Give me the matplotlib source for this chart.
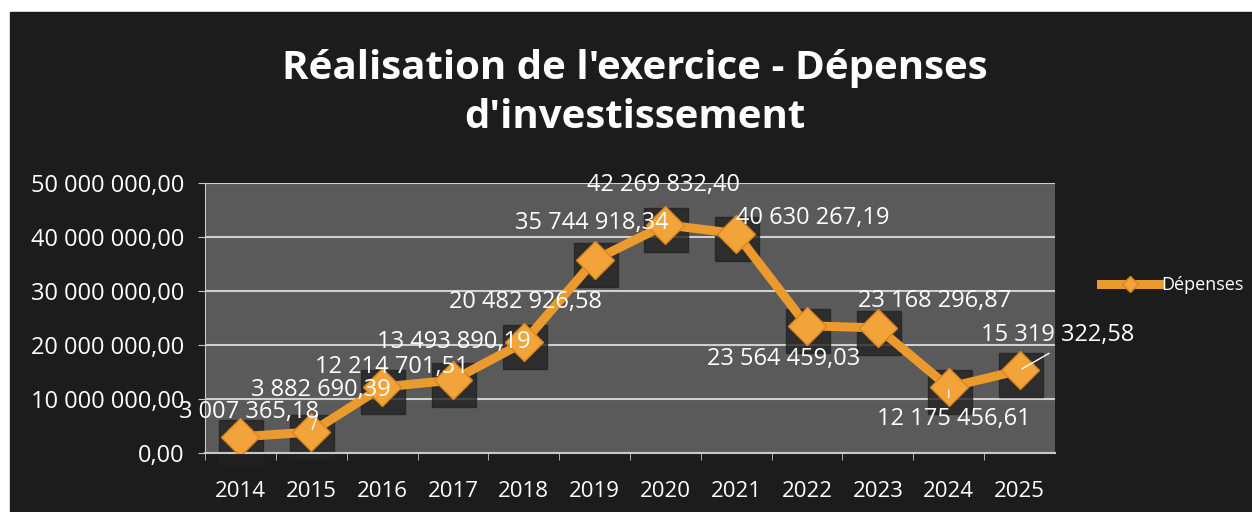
import matplotlib.pyplot as plt
import matplotlib.transforms as mtransforms

annees = ["2014", "2015", "2016", "2017", "2018", "2019", "2020",
          "2021", "2022", "2023", "2024", "2025"]
depenses = [3007365.18, 3882690.39, 12214701.51, 13493890.19, 20482926.58,
            35744918.34, 42269832.40, 40630267.19, 23564459.03, 23168296.87,
            12175456.61, 15319322.58]
etiquettes = ["3 007 365,18", "3 882 690,39", "12 214 701,51", "13 493 890,19",
              "20 482 926,58", "35 744 918,34", "42 269 832,40", "40 630 267,19",
              "23 564 459,03", "23 168 296,87", "12 175 456,61", "15 319 322,58"]
graduations = [0, 10000000, 20000000, 30000000, 40000000, 50000000]
graduations_txt = ["0,00", "10 000 000,00", "20 000 000,00", "30 000 000,00",
                   "40 000 000,00", "50 000 000,00"]

plt.rcParams['font.family'] = ['Open Sans', 'DejaVu Sans']

fond = '#1c1c1c'
orange = '#eb9a2e'

fig = plt.figure(figsize=(12.52, 5.12), dpi=100, facecolor='white')
# cadre sombre (la bordure blanche du scan en haut et à gauche)
fig.patches.append(plt.Rectangle((10 / 1252, 0), 1 - 10 / 1252, 1 - 12 / 512,
                                 transform=fig.transFigure, color=fond, zorder=-1))

ax = fig.add_axes([205 / 1252, 1 - 453 / 512, 850 / 1252, 270 / 512])
ax.set_facecolor('#5a5a5a')
x = list(range(len(annees)))

# ombres carrées derrière les marqueurs
ombre = mtransforms.offset_copy(ax.transData, fig=fig, x=1, y=-5, units='dots')
ax.plot(x, depenses, 's', color='#222222', alpha=0.8, markersize=32,
        transform=ombre, zorder=2, clip_on=False)

ax.plot(x, depenses, color=orange, linewidth=6.5, zorder=3,
        marker='D', markersize=19, markerfacecolor='#f2a33a',
        markeredgecolor='#d9861f', label='Dépenses')

# positions des étiquettes (décalage en pixels)
decalages = [(9, 25), (10, 42), (10, 20), (1, 38), (2, 40), (-3, 37), (-2, 40),
             (76, 16), (-23, -33), (57, 27), (5, -32), (38, 35)]
for xi, yi, txt, (dx, dy) in zip(x, depenses, etiquettes, decalages):
    ax.annotate(txt, (xi, yi), xytext=(dx * 0.72, dy * 0.72),
                textcoords='offset points', ha='center', va='center',
                color='white', fontsize=17, zorder=5)

# petits traits de rappel
ax.annotate('', (1, depenses[1]), xytext=(1.1, depenses[1] + 3.6e6),
            arrowprops=dict(arrowstyle='-', color='white', lw=1), zorder=4)
ax.annotate('', (10, depenses[10]), xytext=(10, depenses[10] - 2.4e6),
            arrowprops=dict(arrowstyle='-', color='white', lw=1), zorder=4)
ax.annotate('', (11, depenses[11]), xytext=(11.45, depenses[11] + 3.4e6),
            arrowprops=dict(arrowstyle='-', color='white', lw=1), zorder=4)

ax.set_xlim(-0.5, 11.5)
ax.set_ylim(0, 50000000)
ax.set_xticks(x)
ax.set_xticklabels(annees, color='white', fontsize=16)
ax.set_yticks(graduations)
ax.set_yticklabels(graduations_txt, color='white', fontsize=17)
ax.set_xticks([i + 0.5 for i in x[:-1]] + [-0.5], minor=True)
ax.tick_params(axis='x', which='major', length=0, pad=20)
ax.tick_params(axis='x', which='minor', length=5, color='#c8c8c8', direction='out')
ax.tick_params(axis='y', length=5, color='#c8c8c8', pad=10)
ax.grid(axis='y', color='#cfcfcf', linewidth=1.5, zorder=1)
ax.set_axisbelow(True)
for cote in ['top', 'right']:
    ax.spines[cote].set_visible(False)
ax.spines['left'].set_color('#c8c8c8')
ax.spines['bottom'].set_color('#c8c8c8')
ax.spines['bottom'].set_linewidth(1.5)

fig.text(0.507, 1 - 93 / 512, "Réalisation de l'exercice - Dépenses\nd'investissement",
         ha='center', va='center', color='white', fontsize=29, fontweight='bold',
         linespacing=1.3)

leg = fig.legend(loc='center left', bbox_to_anchor=(1085 / 1252, 1 - 285 / 512),
                 frameon=False, fontsize=13, labelcolor='white',
                 handlelength=3.2, handletextpad=0.1, markerscale=0.45)

fig.savefig('out.png', dpi=100, facecolor='white')
